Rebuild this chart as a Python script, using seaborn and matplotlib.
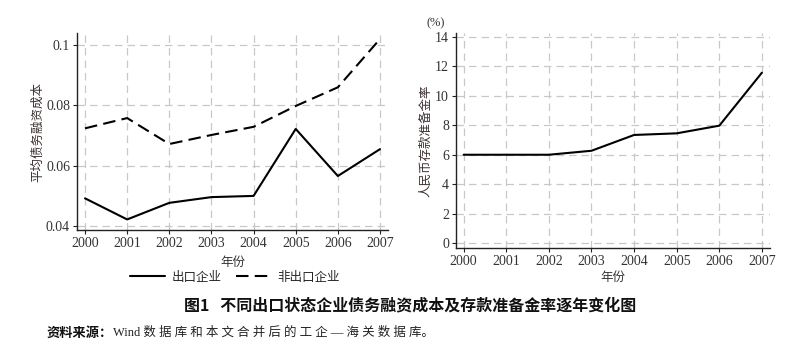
import matplotlib
matplotlib.use("Agg")
import matplotlib.pyplot as plt
import seaborn as sns
import pandas as pd
from matplotlib.lines import Line2D

years = [2000, 2001, 2002, 2003, 2004, 2005, 2006, 2007]
export_cost = [0.0492, 0.0422, 0.0477, 0.0496, 0.0500, 0.0722, 0.0566, 0.0655]
nonexport_cost = [0.0724, 0.0758, 0.0672, 0.0702, 0.0729, 0.0798, 0.0860, 0.1020]
reserve_rate = [6.0, 6.0, 6.0, 6.27, 7.34, 7.45, 7.97, 11.56]
left_yticks = [0.04, 0.06, 0.08, 0.10]
left_yticklabels = ["0.04", "0.06", "0.08", "0.1"]
right_yticks = [0, 2, 4, 6, 8, 10, 12, 14]

sns.set_theme(style="ticks")
CJK = ["Noto Sans CJK SC", "DejaVu Sans"]
SERIF = ["Liberation Serif", "DejaVu Serif"]
MIXED = ["Liberation Serif", "Noto Sans CJK SC", "DejaVu Sans"]
plt.rcParams["font.family"] = CJK

df_left = pd.DataFrame({
    "年份": years * 2,
    "cost": export_cost + nonexport_cost,
    "group": ["出口企业"] * len(years) + ["非出口企业"] * len(years),
})
df_right = pd.DataFrame({"年份": years, "rate": reserve_rate})

fig = plt.figure(figsize=(8.11, 3.44), dpi=100)
W, H = 811, 344

def px_axes(l, t, r, b):
    return fig.add_axes([l / W, 1 - b / H, (r - l) / W, (b - t) / H])

ax1 = px_axes(77, 33, 388, 230)
ax2 = px_axes(456, 33, 770, 248)

grid_kw = dict(color="#c8c8c8", linestyle=(0, (6, 4)), linewidth=0.9)

def style_axes(ax):
    for s in ["top", "right"]:
        ax.spines[s].set_visible(False)
    for s in ["left", "bottom"]:
        ax.spines[s].set_color("#222222")
        ax.spines[s].set_linewidth(1.0)
    ax.grid(True, **grid_kw)
    ax.set_axisbelow(True)
    ax.tick_params(axis="both", direction="out", length=3, width=0.8,
                   color="#222222", labelsize=10, labelcolor="#333333", pad=2)
    for lab in ax.get_xticklabels() + ax.get_yticklabels():
        lab.set_family(SERIF)

# Left chart
sns.lineplot(data=df_left, x="年份", y="cost", hue="group", style="group",
             palette=["black", "black"], dashes={"出口企业": "", "非出口企业": (6, 3)},
             linewidth=1.5, ax=ax1, legend=False)
ax1.set_xlim(1999.81, 2007.19)
ax1.set_ylim(0.0387, 0.104)
ax1.set_xticks(years)
ax1.set_xticklabels([str(y) for y in years])
ax1.set_yticks(left_yticks)
ax1.set_yticklabels(left_yticklabels)
ax1.set_ylabel("平均债务融资成本", fontsize=9, color="#3a3030", labelpad=1)
ax1.set_xlabel("年份", fontsize=9, color="#333333", labelpad=4)
style_axes(ax1)

handles = [Line2D([], [], color="black", lw=1.5, linestyle="-"),
           Line2D([], [], color="black", lw=1.5, linestyle=(0, (6, 3)))]
fig.legend(handles, ["出口企业", "非出口企业"], loc="center",
           bbox_to_anchor=(235 / W, 1 - 277 / H), ncol=2, frameon=False,
           fontsize=9, handlelength=2.8, columnspacing=1.2, handletextpad=0.5)

# Right chart
sns.lineplot(data=df_right, x="年份", y="rate", color="black", linewidth=1.5, ax=ax2)
ax2.set_xlim(1999.82, 2007.19)
ax2.set_ylim(-0.32, 14.25)
ax2.set_xticks(years)
ax2.set_xticklabels([str(y) for y in years])
ax2.set_yticks(right_yticks)
ax2.set_ylabel("人民币存款准备金率", fontsize=9, color="#3a3030", labelpad=2)
ax2.set_xlabel("年份", fontsize=9, color="#333333", labelpad=2)
style_axes(ax2)
fig.text(436 / W, 1 - 23 / H, "(%)", fontsize=9, ha="center", va="center",
         color="#333333", family=SERIF)

# Title and source
fig.text(410 / W, 1 - 305 / H, "图1   不同出口状态企业债务融资成本及存款准备金率逐年变化图",
         fontsize=11.5, fontweight="bold", ha="center", va="center", color="#111111")
fig.text(47 / W, 1 - 333 / H, "资料来源：", fontsize=9.5, fontweight="bold",
         ha="left", va="center", color="#111111")
fig.text(113 / W, 1 - 333 / H, "Wind 数 据 库 和 本 文 合 并 后 的 工 企 — 海 关 数 据 库。",
         fontsize=9, ha="left", va="center", color="#222222", family=MIXED)

fig.savefig("out.png", dpi=100)
